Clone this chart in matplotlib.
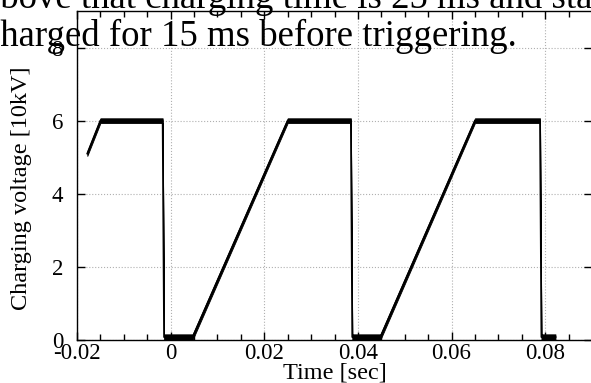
import matplotlib
matplotlib.use("Agg")
import matplotlib.pyplot as plt
import numpy as np
from matplotlib.ticker import MultipleLocator, FixedLocator, FixedFormatter

plt.rcParams['font.family'] = ['Liberation Serif', 'DejaVu Serif']
plt.rcParams['axes.unicode_minus'] = False

# --- data ---
t_trace = [-0.0178, -0.0150, -0.0017, -0.0014, 0.0047, 0.0250, 0.0385,
           0.0388, 0.0448, 0.0650, 0.0789, 0.0792, 0.0822]
v_trace = [5.10, 6.00, 6.00, 0.08, 0.08, 6.00, 6.00,
           0.08, 0.08, 6.00, 6.00, 0.08, 0.08]
noise_band = [0.065, 0.065, 0.065, 0.075, 0.075, 0.065, 0.065,
              0.075, 0.075, 0.065, 0.065, 0.075, 0.075]

x_ticks = [-0.02, 0.0, 0.02, 0.04, 0.06, 0.08]
x_tick_labels = ["-0.02", "0", "0.02", "0.04", "0.06", "0.08"]
y_ticks = [0, 2, 4, 6, 8]
y_tick_labels = ["0", "2", "4", "6", "8"]

x_label = "Time [sec]"
y_label = "Charging voltage [10kV]"
caption_line1 = "above that charging time is 25 ms and stays"
caption_line2 = "charged for 15 ms before triggering."

W, H = 591, 383
fig = plt.figure(figsize=(W / 100, H / 100), dpi=100)
ax = fig.add_axes([77 / W, (H - 340) / H, 515 / W, 329 / H])

t = np.array(t_trace)
v = np.array(v_trace)
nb = np.array(noise_band)
ax.fill_between(t, v - nb, v + nb, color='black', lw=0.6, edgecolor='black', zorder=3)
ax.plot(t, v, color='black', lw=1.3, zorder=3)

ax.set_xlim(-0.02, 0.09)
ax.set_ylim(0, 9)

ax.xaxis.set_major_locator(FixedLocator(x_ticks))
ax.xaxis.set_major_formatter(FixedFormatter(x_tick_labels))
ax.xaxis.set_minor_locator(MultipleLocator(0.005))
ax.yaxis.set_major_locator(FixedLocator(y_ticks))
ax.yaxis.set_major_formatter(FixedFormatter(y_tick_labels))

ax.tick_params(which='both', direction='in', top=True, right=True,
               colors='black', width=1.0)
ax.tick_params(which='major', length=6)
ax.tick_params(which='minor', length=4)
ax.tick_params(axis='x', which='major', labelsize=16.5, pad=2)
ax.tick_params(axis='y', which='major', labelsize=16.5, pad=10)

for s in ax.spines.values():
    s.set_linewidth(1.0)
    s.set_color('black')

ax.grid(True, which='major', linestyle=':', color='#b0b0b0', lw=0.8, zorder=0)
ax.set_axisbelow(True)

ax.set_xlabel(x_label, fontsize=17.5, va='top')
ax.xaxis.set_label_coords(0.5, -0.068)
ax.set_ylabel(y_label, fontsize=17.5, va='center')
ax.yaxis.set_label_coords(-0.107, 0.46)

fs_cap = 26.5
x_cap = -16.3 / W
fig.text(x_cap, 1 - 8 / H, caption_line1, fontsize=fs_cap, va='baseline',
         ha='left', zorder=5)
fig.text(x_cap, 1 - 46 / H, caption_line2, fontsize=fs_cap, va='baseline',
         ha='left', zorder=5)

fig.savefig("out.png", dpi=100)
